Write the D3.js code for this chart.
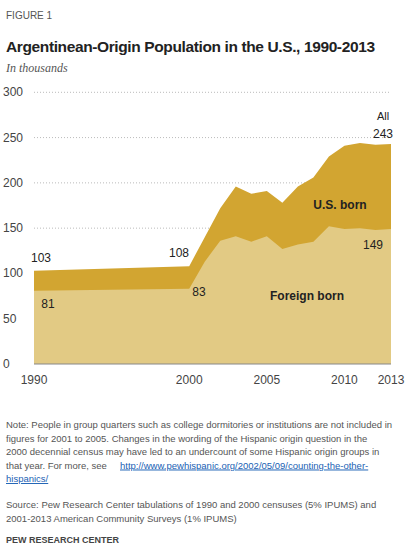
<!DOCTYPE html><html><head><meta charset="utf-8">
<script src="https://cdn.jsdelivr.net/npm/d3@7"></script>
<style>body{margin:0;background:#fff;font-family:Arial,"Liberation Sans",sans-serif;}</style></head><body>
<svg id="c" width="420" height="555"></svg>
<script>
const years=[1990,2000,2001,2002,2003,2004,2005,2006,2007,2008,2009,2010,2011,2012,2013];
const total=[103,108,140,172,196,188,191,178,196,206,229,241,244,242,243];
const foreign=[81,83,113,136,141,135,141,127,132,135,152,149,150,148,149];
const yTicks=[0,50,100,150,200,250,300];
const xTicks=[1990,2000,2005,2010,2013];
const svg=d3.select("#c");
const x=d3.scaleLinear().domain([1990,2013]).range([34,391]);
const y=d3.scaleLinear().domain([0,300]).range([364,92.3]);
svg.append("text").attr("x",6).attr("y",19).attr("font-size",10).attr("fill","#555").text("FIGURE 1");
svg.append("text").attr("x",6).attr("y",52).attr("font-size",15.5).attr("font-weight","bold").attr("fill","#222").attr("textLength",369).text("Argentinean-Origin  Population in the U.S., 1990-2013");
svg.append("text").attr("x",6).attr("y",72).attr("font-size",12).attr("font-style","italic").attr("fill","#555").attr("font-family","'Liberation Serif',serif").text("In thousands");
yTicks.forEach(t=>{
 if(t>0) svg.append("line").attr("x1",34).attr("x2",389).attr("y1",y(t)).attr("y2",y(t)).attr("stroke","#bbb").attr("stroke-dasharray","1,2");
 svg.append("text").attr("x",3).attr("y",y(t)+4).attr("font-size",12).attr("fill","#444").text(t);
});
const d=years.map((yr,i)=>({yr,t:total[i],f:foreign[i]}));
svg.append("path").datum(d).attr("fill","#d2a531").attr("d",d3.area().x(p=>x(p.yr)).y0(y(0)).y1(p=>y(p.t)));
svg.append("path").datum(d).attr("fill","#e2ca84").attr("d",d3.area().x(p=>x(p.yr)).y0(y(0)).y1(p=>y(p.f)));
svg.append("line").attr("x1",34).attr("x2",391).attr("y1",y(0)).attr("y2",y(0)).attr("stroke","#888");
xTicks.forEach(t=>svg.append("text").attr("x",x(t)).attr("y",384).attr("text-anchor","middle").attr("font-size",12).attr("fill","#444").text(t));
const lab=(tx,xx,yy,opts={})=>svg.append("text").attr("x",xx).attr("y",yy).attr("font-size",opts.s||12).attr("text-anchor",opts.a||"middle").attr("font-weight",opts.b?"bold":"normal").attr("fill","#222").text(tx);
lab(total[0],41,262);lab(foreign[0],48,308);
lab(total[1],179,257);lab(foreign[1],199,296);
lab("All",383,120,{s:11});lab(total[14],383,138);lab(foreign[14],373,249);
lab("U.S. born",340,209,{b:1});lab("Foreign born",307,300,{b:1});
const notes=["Note: People in group quarters such as college dormitories or institutions are not included in","figures for 2001 to 2005.  Changes in the wording of the Hispanic origin question in the","2000 decennial census may have led to an undercount of some Hispanic origin groups in","that year. For more, see "];
notes.forEach((n,i)=>svg.append("text").attr("x",6).attr("y",428+i*13.5).attr("font-size",9.5).attr("fill","#555").text(n));
svg.append("text").attr("x",120).attr("y",468.5).attr("font-size",9.5).attr("fill","#1a5fb4").attr("text-decoration","underline").text("http://www.pewhispanic.org/2002/05/09/counting-the-other-");
svg.append("text").attr("x",6).attr("y",482).attr("font-size",9.5).attr("fill","#1a5fb4").attr("text-decoration","underline").text("hispanics/");
svg.append("text").attr("x",6).attr("y",508).attr("font-size",9.5).attr("fill","#555").text("Source: Pew Research Center tabulations of 1990 and 2000 censuses (5% IPUMS) and");
svg.append("text").attr("x",6).attr("y",521.5).attr("font-size",9.5).attr("fill","#555").text("2001-2013 American Community Surveys (1% IPUMS)");
svg.append("text").attr("x",6).attr("y",543).attr("font-size",9).attr("font-weight","bold").attr("fill","#444").text("PEW RESEARCH CENTER");
</script></body></html>
